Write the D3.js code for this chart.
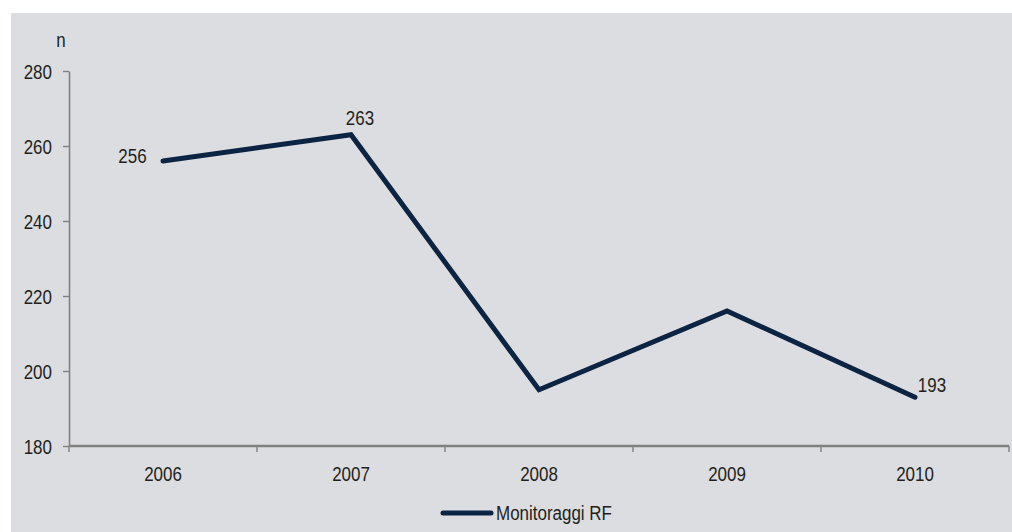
<!DOCTYPE html>
<html>
<head>
<meta charset="utf-8">
<script src="https://cdn.jsdelivr.net/npm/d3@7"></script>
<style>
  html, body { margin: 0; padding: 0; background: #ffffff; }
  svg { display: block; }
  text { font-family: "Liberation Sans", Arial, sans-serif; fill: #231f20; }
</style>
</head>
<body>
<svg id="chart" width="1012" height="532"></svg>
<script>
// Annual counts of RF monitoring activities
const years = ["2006", "2007", "2008", "2009", "2010"];
const monitoraggi = [256, 263, 195, 216, 193];
const yTicks = [180, 200, 220, 240, 260, 280];
const seriesName = "Monitoraggi RF";
const labelled = ["2006", "2007", "2010"];

const FONT = "19.5px";
const SQUEEZE = 0.87;

// narrow the glyphs horizontally to get a condensed face
function condense(sel) {
  sel.each(function () {
    const len = this.getComputedTextLength();
    d3.select(this).attr("textLength", len * SQUEEZE).attr("lengthAdjust", "spacingAndGlyphs");
  });
}

const svg = d3.select("#chart");
const W = 1012, H = 532;

svg.append("rect")
  .attr("x", 11).attr("y", 13)
  .attr("width", W - 11).attr("height", H - 13)
  .attr("fill", "#dcdde0");

const x = d3.scaleBand().domain(years).range([69, 1009]);
const y = d3.scaleLinear().domain([180, 280]).range([446, 71]);

// y axis
const yAxis = svg.append("g").attr("transform", "translate(69,0)")
  .call(d3.axisLeft(y).tickValues(yTicks).tickSize(6).tickPadding(11).tickSizeOuter(0));
yAxis.select(".domain").attr("stroke", "#808080").attr("stroke-width", 1.6);
yAxis.selectAll(".tick line").attr("stroke", "#808080").attr("stroke-width", 1.4);
yAxis.selectAll(".tick text").style("font-size", FONT).attr("fill", "#231f20")
  .attr("dy", "0.38em").call(condense);

// x axis with ticks at category boundaries
const xAxisG = svg.append("g").attr("transform", "translate(0,446)");
xAxisG.append("line")
  .attr("x1", x.range()[0]).attr("x2", x.range()[1])
  .attr("stroke", "#808080").attr("stroke-width", 2.5);
const bounds = years.map(d => x(d)).concat([x.range()[1]]);
xAxisG.selectAll("line.tk").data(bounds).join("line")
  .attr("class", "tk")
  .attr("x1", d => d).attr("x2", d => d)
  .attr("y1", 0).attr("y2", 6)
  .attr("stroke", "#808080").attr("stroke-width", 1.4);
xAxisG.selectAll("text").data(years).join("text")
  .attr("x", d => x(d) + x.bandwidth() / 2)
  .attr("y", 35)
  .attr("text-anchor", "middle")
  .style("font-size", FONT)
  .text(d => d)
  .call(condense);

// unit label
svg.append("text").attr("x", 61).attr("y", 47)
  .attr("text-anchor", "middle").style("font-size", FONT).text("n").call(condense);

// series line
const pts = years.map((d, i) => ({ year: d, value: monitoraggi[i] }));
const line = d3.line().x(d => x(d.year) + x.bandwidth() / 2).y(d => y(d.value));
svg.append("path").datum(pts)
  .attr("d", line)
  .attr("fill", "none")
  .attr("stroke", "#0b2443")
  .attr("stroke-width", 5)
  .attr("stroke-linejoin", "miter")
  .attr("stroke-linecap", "round");

// value labels
const labelPos = {
  "2006": { dx: -30.5, dy: 2 },
  "2007": { dx: 9, dy: -10 },
  "2010": { dx: 17, dy: -5 }
};
svg.selectAll("text.val").data(pts.filter(p => labelled.includes(p.year))).join("text")
  .attr("class", "val")
  .attr("x", d => x(d.year) + x.bandwidth() / 2 + labelPos[d.year].dx)
  .attr("y", d => y(d.value) + labelPos[d.year].dy)
  .attr("text-anchor", "middle")
  .style("font-size", FONT)
  .text(d => d.value)
  .call(condense);

// legend
const lg = svg.append("g").attr("transform", "translate(0,513)");
lg.append("line").attr("x1", 443).attr("x2", 491)
  .attr("stroke", "#0b2443").attr("stroke-width", 5).attr("stroke-linecap", "round");
lg.append("text").attr("x", 496).attr("y", 7)
  .style("font-size", FONT).text(seriesName).call(condense);
</script>
</body>
</html>
